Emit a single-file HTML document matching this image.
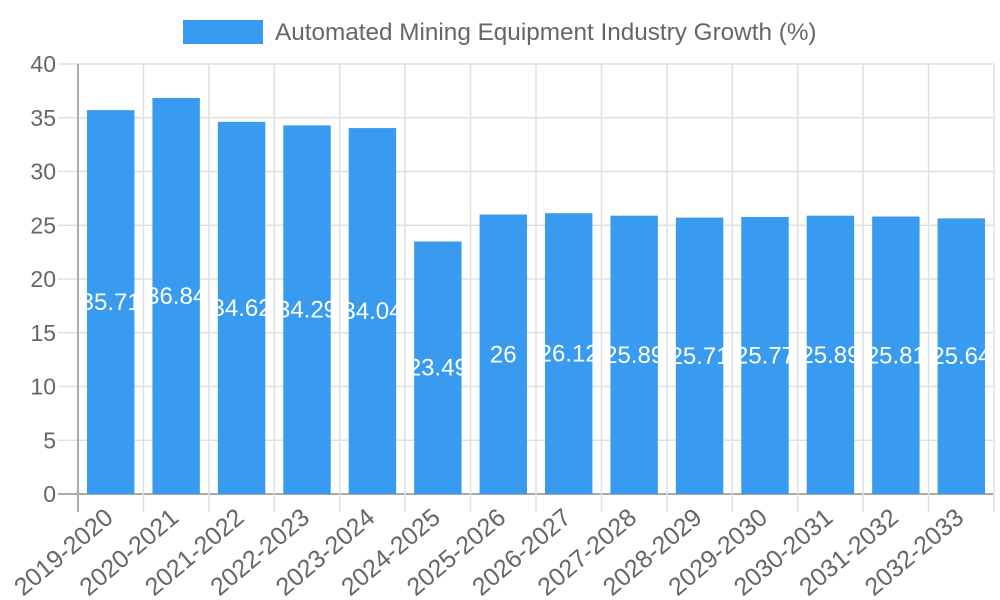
<!DOCTYPE html>
<html><head><meta charset="utf-8"><style>
html,body{margin:0;padding:0;background:#fff;width:1000px;height:600px;overflow:hidden}
svg{font-family:"Liberation Sans",sans-serif}
</style></head><body>
<svg id="chart" width="1000" height="600">
<rect x="183" y="20" width="80" height="24" fill="#389bf0"/>
<text x="275" y="40" font-size="24.3" fill="#666">Automated Mining Equipment Industry Growth (%)</text>
<g id="grid"></g><g id="bars"></g><g id="labels"></g>
</svg>
<script>
const categories=["2019-2020","2020-2021","2021-2022","2022-2023","2023-2024","2024-2025","2025-2026","2026-2027","2027-2028","2028-2029","2029-2030","2030-2031","2031-2032","2032-2033"];
const values=[35.71,36.84,34.62,34.29,34.04,23.49,26,26.12,25.89,25.71,25.77,25.89,25.81,25.64];
const yTicks=[0,5,10,15,20,25,30,35,40];
const NS="http://www.w3.org/2000/svg";
const L=78,R=994,T=64,B=494,yMax=40;
const band=(R-L)/categories.length;
const y=v=>B-(v/yMax)*(B-T);
const x=i=>L+i*band;
function mk(tag,attrs,parent){const e=document.createElementNS(NS,tag);for(const k in attrs)e.setAttribute(k,attrs[k]);parent.appendChild(e);return e;}
const grid=document.getElementById('grid'),bars=document.getElementById('bars'),labels=document.getElementById('labels');
yTicks.forEach(t=>{
 const l=mk('line',{x1:58,x2:R,y1:y(t),y2:y(t),stroke:t===0?'#aaa':'#e0e0e0','stroke-width':t===0?2:1.5},grid);
 
 
 const tx=mk('text',{x:56,y:y(t)+8,'text-anchor':'end','font-size':23,fill:'#666'},grid);
 tx.textContent=t;
 
 
});
for(let i=0;i<=categories.length;i++){
 const l=mk('line',{x1:x(i),x2:x(i),y1:T,y2:512,stroke:i===0?'#aaa':'#e0e0e0','stroke-width':i===0?2:1.5},grid);
 
 
}
categories.forEach((c,i)=>{
 const bx=x(i)+9,bw=band-18;
 const r=mk('rect',{x:bx,y:y(values[i]),width:bw,height:B-y(values[i]),fill:'#389bf0'},bars);
 
 
 const cx=x(i)+band/2;
 const v=mk('text',{x:cx,y:(y(values[i])+B)/2+8,'text-anchor':'middle','font-size':24,fill:'#fff'},labels);
 v.textContent=values[i];
 
 
 const lx=cx+4,ly=520;
 const t=mk('text',{x:lx,y:ly,'text-anchor':'end','font-size':25,fill:'#666',transform:`rotate(-40 ${lx} ${ly})`},labels);
 t.textContent=c;
 
 
});
</script>
</body></html>
